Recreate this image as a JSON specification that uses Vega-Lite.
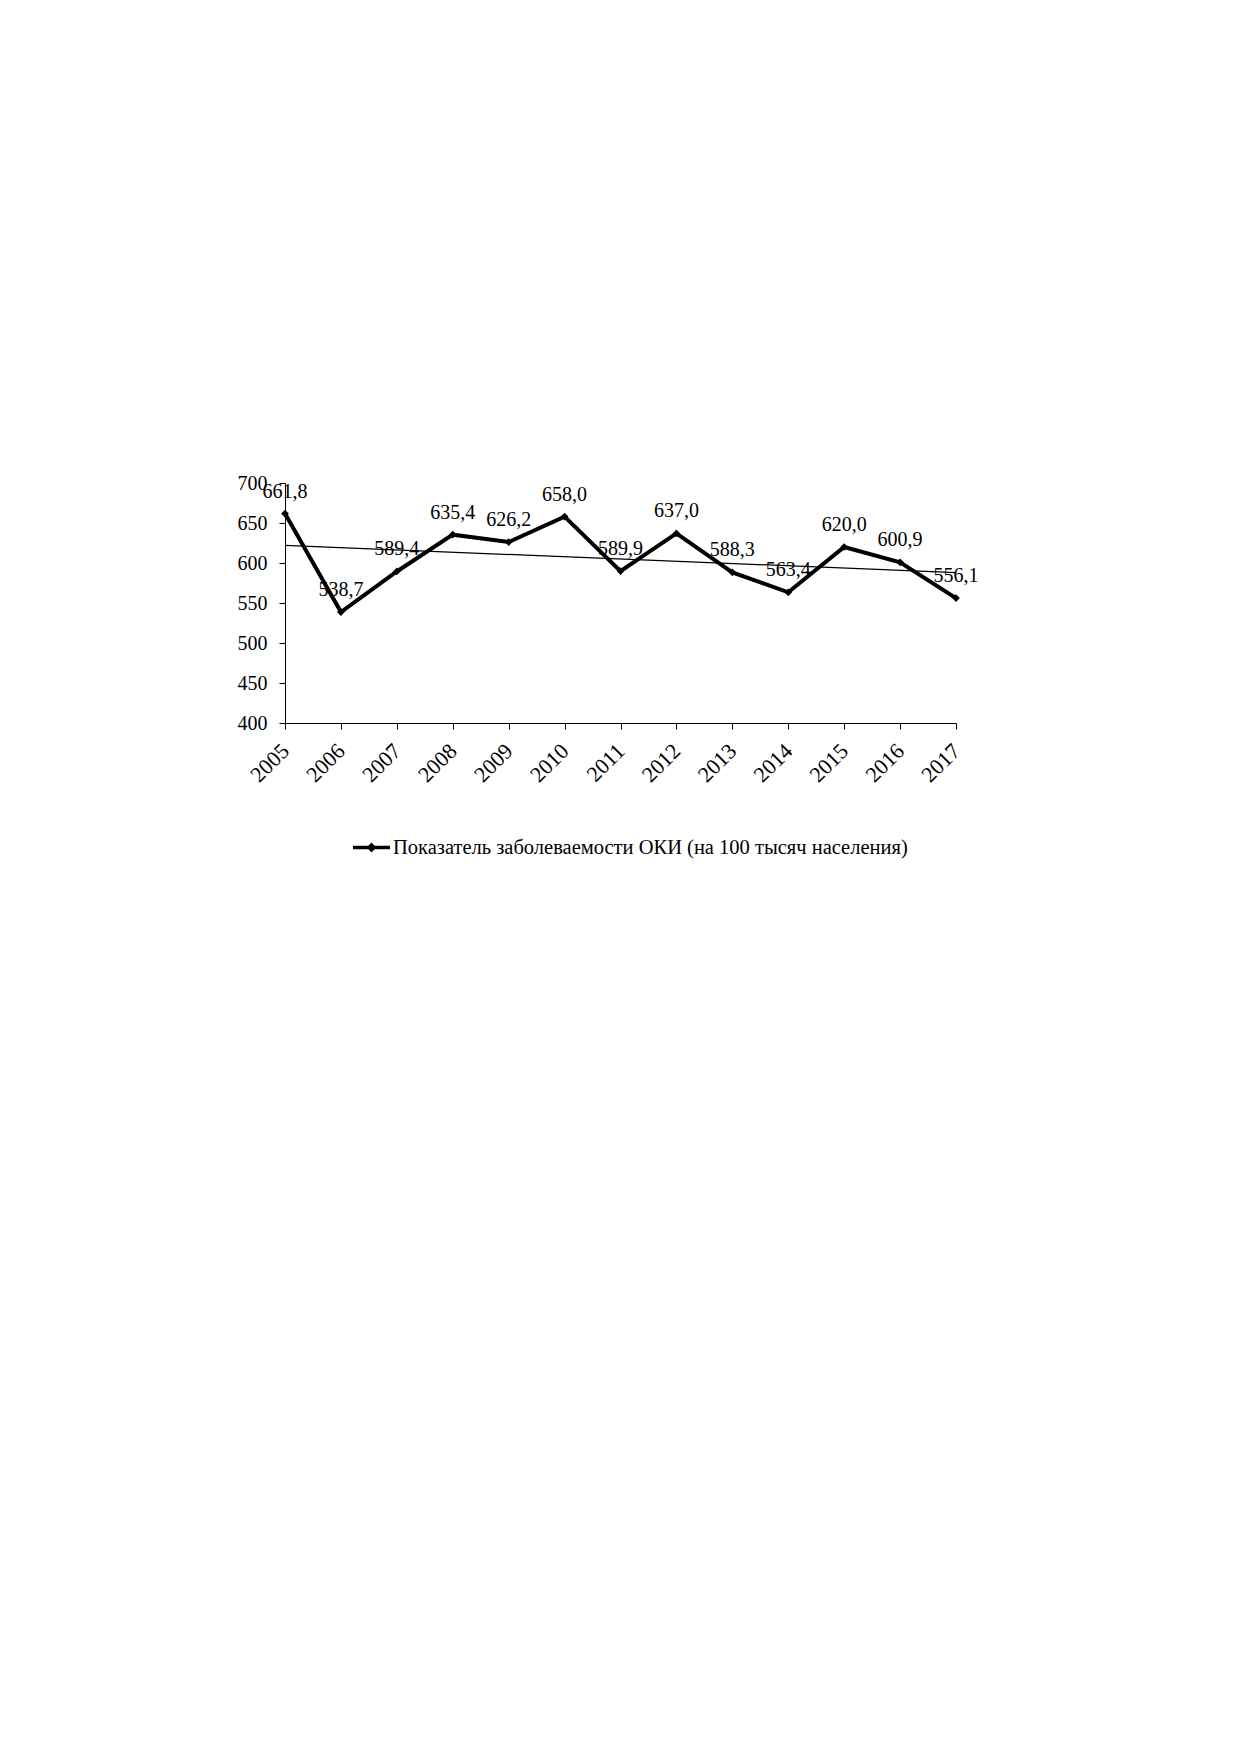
{
  "$schema": "https://vega.github.io/schema/vega-lite/v6.json",
  "width": 671,
  "height": 240,
  "autosize": "none",
  "padding": {"left": 285, "top": 483, "right": 283, "bottom": 1029},
  "background": "white",
  "config": {
    "view": {"stroke": null},
    "font": "Liberation Serif",
    "locale": {
      "number": {"decimal": ",", "thousands": " ", "grouping": [3], "currency": ["", ""]}
    },
    "axis": {
      "grid": false,
      "title": null,
      "domainColor": "black",
      "tickColor": "black",
      "labelColor": "black",
      "labelFont": "Liberation Serif",
      "labelFontSize": 20,
      "tickSize": 6
    }
  },
  "data": {
    "values": [
      {"year": 2005, "value": 661.8},
      {"year": 2006, "value": 538.7},
      {"year": 2007, "value": 589.4},
      {"year": 2008, "value": 635.4},
      {"year": 2009, "value": 626.2},
      {"year": 2010, "value": 658.0},
      {"year": 2011, "value": 589.9},
      {"year": 2012, "value": 637.0},
      {"year": 2013, "value": 588.3},
      {"year": 2014, "value": 563.4},
      {"year": 2015, "value": 620.0},
      {"year": 2016, "value": 600.9},
      {"year": 2017, "value": 556.1}
    ]
  },
  "encoding": {
    "x": {
      "field": "year",
      "type": "quantitative",
      "scale": {"domain": [2005, 2017], "nice": false, "zero": false},
      "axis": {
        "values": [2005, 2006, 2007, 2008, 2009, 2010, 2011, 2012, 2013, 2014, 2015, 2016, 2017],
        "format": "d",
        "labelAngle": -45,
        "labelAlign": "right",
        "labelBaseline": "middle",
        "labelFontSize": 22,
        "labelPadding": 18,
        "labelFlush": false,
        "labelOverlap": false
      }
    },
    "y": {
      "field": "value",
      "type": "quantitative",
      "scale": {"domain": [400, 700], "nice": false, "zero": false},
      "axis": {
        "values": [400, 450, 500, 550, 600, 650, 700],
        "format": "d",
        "labelPadding": 12
      }
    }
  },
  "layer": [
    {
      "transform": [
        {"regression": "value", "on": "year", "method": "linear", "extent": [2005, 2017]}
      ],
      "mark": {"type": "line", "color": "black", "strokeWidth": 1.2}
    },
    {
      "mark": {
        "type": "line",
        "strokeWidth": 4,
        "point": {"shape": "diamond", "size": 60, "filled": true}
      },
      "encoding": {
        "color": {
          "datum": "Показатель заболеваемости ОКИ (на 100 тысяч населения)",
          "type": "nominal",
          "scale": {"range": ["black"]},
          "legend": {
            "orient": "none",
            "legendX": 66,
            "legendY": 344,
            "title": null,
            "symbolType": "M-1,0H1M0,-0.13L0.13,0L0,0.13L-0.13,0Z",
            "symbolSize": 1369,
            "symbolStrokeWidth": 3.5,
            "labelFont": "Liberation Serif",
            "labelFontSize": 20.5,
            "labelColor": "black",
            "labelLimit": 0,
            "labelOffset": 1,
            "encode": {
              "symbols": {"update": {"fill": {"value": "black"}, "stroke": {"value": "black"}}}
            }
          }
        }
      }
    },
    {
      "mark": {
        "type": "text",
        "dy": -22,
        "fontSize": 20,
        "font": "Liberation Serif",
        "color": "black",
        "align": "center",
        "baseline": "middle"
      },
      "encoding": {
        "text": {"field": "value", "type": "quantitative", "format": ".1f"}
      }
    }
  ]
}
